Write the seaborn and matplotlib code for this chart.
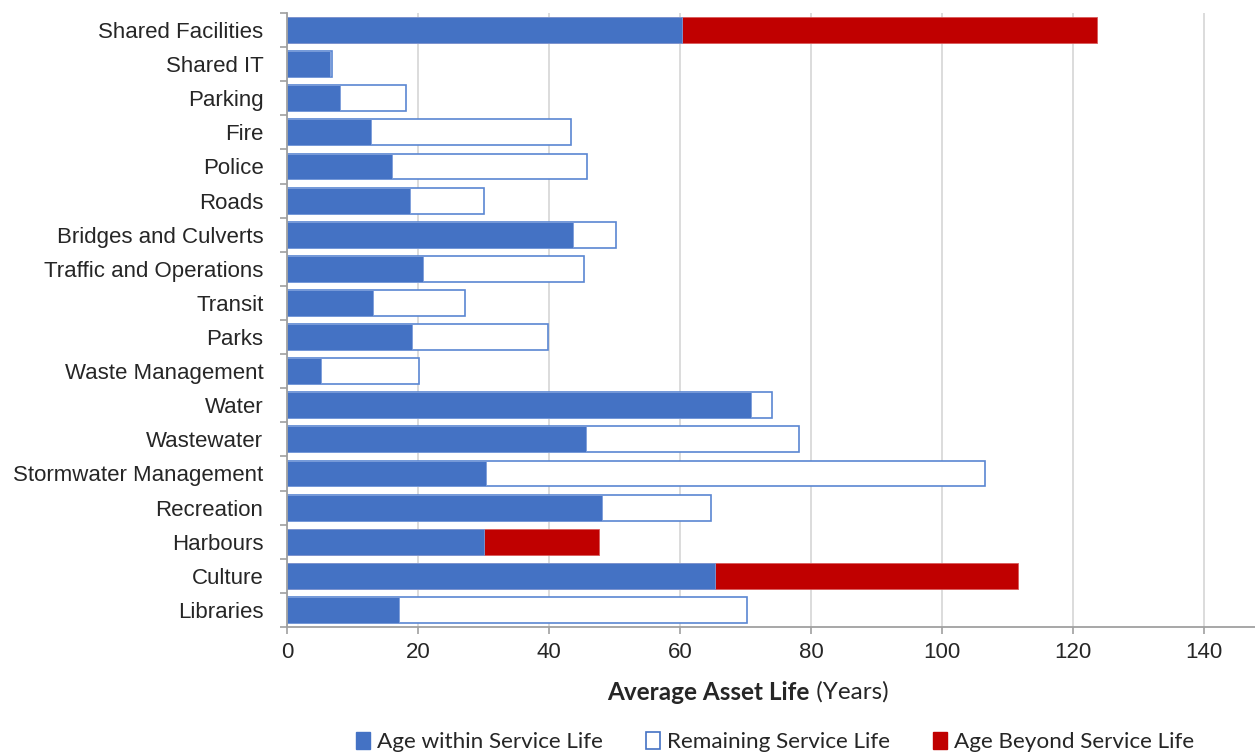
import matplotlib
matplotlib.use("Agg")
import matplotlib.pyplot as plt
import seaborn as sns
import pandas as pd
from matplotlib.patches import Patch
from matplotlib.ticker import FixedLocator

categories = [
    "Shared Facilities", "Shared IT", "Parking", "Fire", "Police", "Roads",
    "Bridges and Culverts", "Traffic and Operations", "Transit", "Parks",
    "Waste Management", "Water", "Wastewater", "Stormwater Management",
    "Recreation", "Harbours", "Culture", "Libraries",
]
age_within = [60.3, 6.6, 8.1, 12.9, 16.1, 18.8, 43.7, 20.8, 13.1, 19.1,
              5.2, 70.9, 45.6, 30.4, 48.1, 30.1, 65.4, 17.1]
remaining = [0.0, 0.3, 10.1, 30.5, 29.7, 11.2, 6.6, 24.5, 14.0, 20.8,
             15.0, 3.1, 32.6, 76.2, 16.7, 0.0, 0.0, 53.2]
beyond = [63.4, 0.0, 0.0, 0.0, 0.0, 0.0, 0.0, 0.0, 0.0, 0.0,
          0.0, 0.0, 0.0, 0.0, 0.0, 17.5, 46.2, 0.0]
x_ticks = [0, 20, 40, 60, 80, 100, 120, 140]

BLUE = "#4472C4"
RED = "#C00000"
LABEL_FONT = ["Liberation Sans", "DejaVu Sans"]
LEGEND_FONT = ["Lato", "DejaVu Sans"]

sns.set_theme(style="white")
plt.rcParams["font.family"] = LABEL_FONT

df = pd.DataFrame({
    "category": categories,
    "within": age_within,
    "remaining": remaining,
    "beyond": beyond,
})
# cumulative ends for layered stacking
df["within_plus_remaining"] = df["within"] + df["remaining"]
df["within_plus_beyond"] = df["within"] + df["beyond"]

fig = plt.figure(figsize=(12.55, 7.56), dpi=100)
ax = fig.add_axes([287 / 1255, 1 - 627 / 756, 968 / 1255, (627 - 13) / 756])

bar_w = 0.76
# remaining service life: outlined segment spanning to within + remaining
sns.barplot(data=df[df["remaining"] > 0], x="within_plus_remaining", y="category",
            order=categories, orient="h", color="white", edgecolor="#5A86D2",
            linewidth=1.2, width=bar_w, ax=ax, saturation=1)
# age beyond service life
sns.barplot(data=df[df["beyond"] > 0], x="within_plus_beyond", y="category",
            order=categories, orient="h", color=RED, edgecolor="#D85A5A",
            linewidth=0.6, width=bar_w, ax=ax, saturation=1)
# age within service life
sns.barplot(data=df, x="within", y="category", order=categories, orient="h",
            color=BLUE, edgecolor="#7C9DDA", linewidth=0.6, width=bar_w,
            ax=ax, saturation=1)

ax.set_xlim(0, 968 / 6.55)
ax.set_ylim(len(categories) - 0.5, -0.5)
ax.set_xticks(x_ticks)
ax.set_xticklabels([str(t) for t in x_ticks])
ax.set_xlabel("")
ax.set_ylabel("")

ax.xaxis.grid(True, color="#D9D9D9", linewidth=1.3)
ax.yaxis.grid(False)
ax.set_axisbelow(True)

for side in ["top", "right"]:
    ax.spines[side].set_visible(False)
for side in ["left", "bottom"]:
    ax.spines[side].set_color("#A0A0A0")
    ax.spines[side].set_linewidth(1.3)

ax.tick_params(axis="x", which="major", length=5, width=1.2, color="#A0A0A0",
               direction="out", pad=6, labelsize=16, labelcolor="#262626",
               bottom=True)
ax.tick_params(axis="y", which="major", length=0, pad=17, labelsize=16,
               labelcolor="#262626", left=True)
ax.yaxis.set_minor_locator(FixedLocator([i - 0.5 for i in range(len(categories) + 1)]))
ax.tick_params(axis="y", which="minor", length=5, width=1.2, color="#A0A0A0",
               direction="out", left=True)

# axis title with bold and regular parts
fig.canvas.draw()
renderer = fig.canvas.get_renderer()
title_y = 1 - 692 / 756
t1 = fig.text(0, title_y, "Average Asset Life", fontweight="bold", fontsize=17.5,
              family=LEGEND_FONT, color="#262626", va="center", ha="left")
t2 = fig.text(0, title_y, " (Years)", fontsize=17.5, family=LEGEND_FONT,
              color="#262626", va="center", ha="left")
w1 = t1.get_window_extent(renderer).width
w2 = t2.get_window_extent(renderer).width
left_px = 748 - (w1 + w2) / 2
t1.set_x(left_px / 1255)
t2.set_x((left_px + w1) / 1255)

handles = [
    Patch(facecolor=BLUE, edgecolor=BLUE, label="Age within Service Life"),
    Patch(facecolor="white", edgecolor="#4472C4", linewidth=1.2,
          label="Remaining Service Life"),
    Patch(facecolor=RED, edgecolor=RED, label="Age Beyond Service Life"),
]
fig.legend(handles=handles, loc="center", bbox_to_anchor=(775 / 1255, 1 - 742 / 756),
           ncol=3, frameon=False, handlelength=0.65, handleheight=0.8,
           handletextpad=0.3, columnspacing=1.9,
           prop={"family": LEGEND_FONT, "size": 16.2}, labelcolor="#262626")

fig.savefig("out.png", dpi=100)
